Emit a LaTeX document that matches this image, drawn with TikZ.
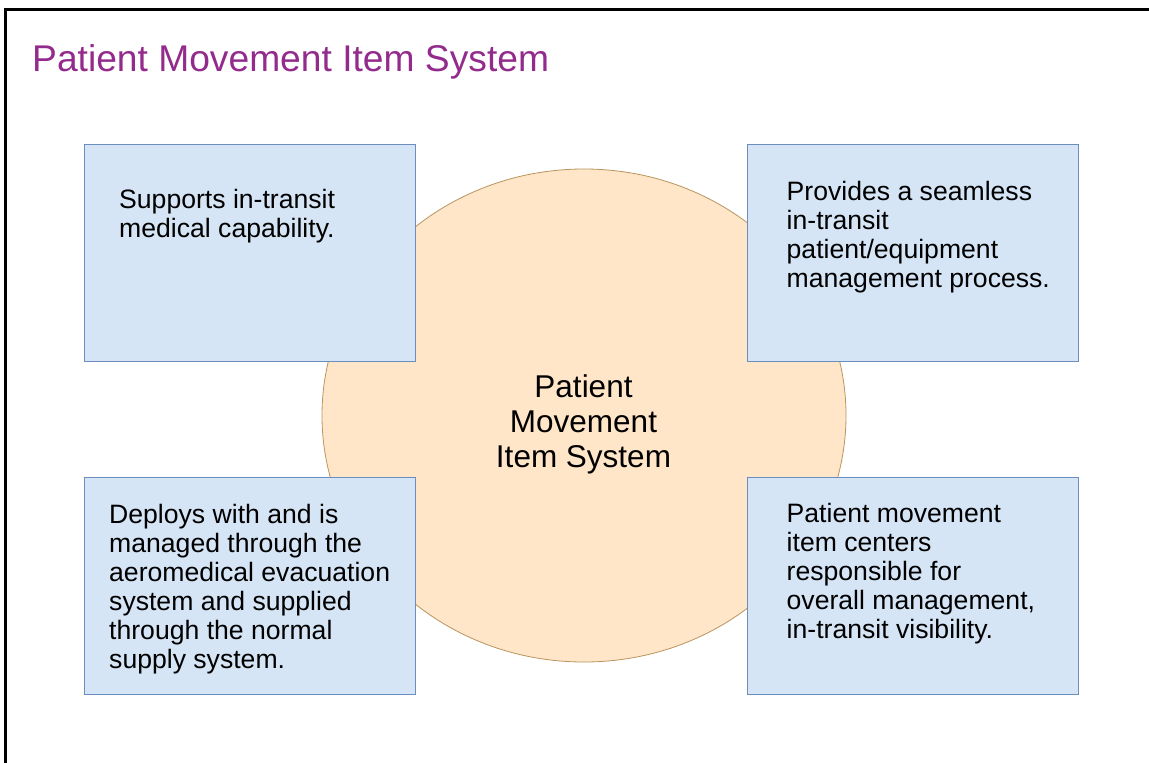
\documentclass[tikz,border=0pt]{standalone}
\usepackage{fontspec}
\setmainfont{Liberation Sans}
\usetikzlibrary{positioning, shapes.geometric, calc}

\definecolor{titlepurple}{HTML}{932B8C}
\definecolor{boxfill}{HTML}{D6E5F5}
\definecolor{boxline}{HTML}{6C8EBF}
\definecolor{hubfill}{HTML}{FFE6C8}
\definecolor{hubline}{HTML}{B8955E}

\tikzset{
  infobox/.style={draw=boxline, fill=boxfill, line width=1pt, minimum width=331pt, minimum height=217pt, inner sep=0pt},
  infotext/.style={anchor=north west, inner sep=0pt, align=left, font=\fontsize{26.6}{29}\selectfont},
}

\begin{document}
\begin{tikzpicture}[x=1pt, y=-1pt]
  \useasboundingbox (0,0) rectangle (1149,763);
  % frame, runs off the right and bottom of the page
  \draw[line width=3pt] (5.5,780) -- (5.5,9) -- (1170,9);

  % title
  \node[anchor=base west, inner sep=0pt, text=titlepurple, font=\fontsize{37.2}{43}\selectfont] (title) at (32,71.5) {Patient Movement Item System};

  % centre ellipse
  \node[ellipse, draw=hubline, fill=hubfill, line width=0.8pt, minimum width=524pt, minimum height=493pt, inner sep=0pt] (hub) at (584,415.5) {};
  \node[anchor=north, inner sep=0pt, align=center, font=\fontsize{31.5}{35.3}\selectfont] (hubtxt) at (583.5,374) {Patient\\Movement\\Item System};

  % four boxes
  \node[infobox] (tl) at (249.5,252.5) {};
  \node[infobox, right=331pt of tl] (tr) {};
  \node[infobox, below=115pt of tl] (bl) {};
  \node[infobox, right=331pt of bl] (br) {};

  % box texts
  \node[infotext] (tltxt) at ($(tl.north west)+(35.5,46)$) {Supports in-transit\\medical capability.};
  \node[infotext] (trtxt) at ($(tr.north west)+(40,37.7)$) {Provides a seamless\\in-transit\\patient/equipment\\management process.};
  \node[infotext] (bltxt) at ($(bl.north west)+(25.5,27.3)$) {Deploys with and is\\managed through the\\aeromedical evacuation\\system and supplied\\through the normal\\supply system.};
  \node[infotext] (brtxt) at ($(br.north west)+(40,26.3)$) {Patient movement\\item centers\\responsible for\\overall management,\\in-transit visibility.};
\end{tikzpicture}
\end{document}
